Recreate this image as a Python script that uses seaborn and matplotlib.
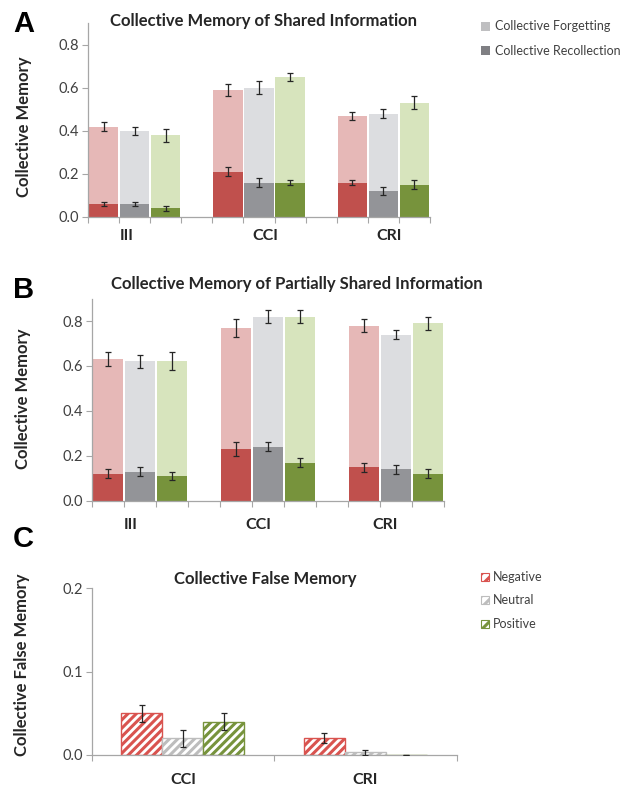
import numpy as np
import pandas as pd
import matplotlib
matplotlib.use("Agg")
import matplotlib.pyplot as plt
from matplotlib.patches import Patch
import seaborn as sns

# ---------------- data ----------------
groups = ["III", "CCI", "CRI"]
emotions = ["Negative", "Neutral", "Positive"]

# Panel A: shared information (rows = emotions, cols = groups)
A_total = [[0.42, 0.59, 0.47],
           [0.40, 0.60, 0.48],
           [0.38, 0.65, 0.53]]
A_total_err = [[0.02, 0.03, 0.02],
               [0.02, 0.03, 0.02],
               [0.03, 0.018, 0.03]]
A_recall = [[0.06, 0.21, 0.16],
            [0.06, 0.16, 0.12],
            [0.04, 0.16, 0.15]]
A_recall_err = [[0.01, 0.02, 0.01],
                [0.01, 0.02, 0.02],
                [0.01, 0.01, 0.02]]

# Panel B: partially shared information
B_total = [[0.63, 0.77, 0.78],
           [0.62, 0.82, 0.74],
           [0.62, 0.82, 0.79]]
B_total_err = [[0.03, 0.04, 0.03],
               [0.03, 0.03, 0.02],
               [0.04, 0.03, 0.03]]
B_recall = [[0.12, 0.23, 0.15],
            [0.13, 0.24, 0.14],
            [0.11, 0.17, 0.12]]
B_recall_err = [[0.02, 0.03, 0.02],
                [0.02, 0.02, 0.02],
                [0.02, 0.02, 0.02]]

# Panel C: collective false memory
groups_c = ["CCI", "CRI"]
C_false = [[0.050, 0.020],
           [0.020, 0.003],
           [0.040, 0.000]]
C_false_err = [[0.010, 0.006],
               [0.010, 0.003],
               [0.010, 0.000]]

yticks_ab = [0.0, 0.2, 0.4, 0.6, 0.8]
yticks_c = [0.0, 0.1, 0.2]

# ---------------- style ----------------
sns.set_style("white")
plt.rcParams["font.family"] = ["Lato", "DejaVu Sans"]
plt.rcParams["hatch.linewidth"] = 2.2

light_pal = ["#e6b8b7", "#dcdde0", "#d7e4bd"]
dark_pal = ["#c0504d", "#939498", "#77933c"]
hatch_pal = ["#d9534f", "#bdbdbd", "#77933c"]
TXT = "#262626"
TICKTXT = "#404040"
SPINE = "#a6a6a6"

W, H = 633, 788
fig = plt.figure(figsize=(W / 100, H / 100), dpi=100)


def fx(px):
    return px / W


def fy(py):
    return 1 - py / H


def style_axes(ax):
    for s in ["top", "right"]:
        ax.spines[s].set_visible(False)
    for s in ["left", "bottom"]:
        ax.spines[s].set_color(SPINE)
        ax.spines[s].set_linewidth(0.9)
    ax.set_xlabel("")
    ax.set_ylabel("")
    ax.tick_params(axis="y", which="major", direction="out", length=4, width=0.8,
                   color=SPINE, labelcolor=TICKTXT, labelsize=10.5, pad=2.5, left=True)


def add_errorbars(ax, containers, errs):
    for cont, err in zip(containers, errs):
        xs = [b.get_x() + b.get_width() / 2 for b in cont]
        ys = [b.get_height() for b in cont]
        ax.errorbar(xs, ys, yerr=err, fmt="none", ecolor=TXT, elinewidth=0.9,
                    capsize=2.3, capthick=0.9, zorder=5)


def stacked_panel(ax, total, total_err, recall, recall_err, label_off, pad):
    df = pd.DataFrame({
        "group": np.tile(groups, len(emotions)),
        "emotion": np.repeat(emotions, len(groups)),
        "total": np.ravel(total),
        "recall": np.ravel(recall),
    })
    sns.barplot(data=df, x="group", y="total", hue="emotion", order=groups,
                hue_order=emotions, palette=light_pal, width=0.75, gap=0.05,
                errorbar=None, saturation=1, legend=False, ax=ax, linewidth=0)
    n0 = len(ax.containers)
    sns.barplot(data=df, x="group", y="recall", hue="emotion", order=groups,
                hue_order=emotions, palette=dark_pal, width=0.75, gap=0.05,
                errorbar=None, saturation=1, legend=False, ax=ax, linewidth=0)
    light_c = ax.containers[:n0]
    dark_c = ax.containers[n0:]
    add_errorbars(ax, light_c, total_err)
    add_errorbars(ax, dark_c, recall_err)
    style_axes(ax)
    ax.set_xlim(-0.375, len(groups) - 1 + 0.375)
    ax.set_ylim(0, 0.9)
    ax.set_yticks(yticks_ab)
    ax.set_yticklabels([f"{v:.1f}" for v in yticks_ab])
    pos = np.arange(len(groups)) + np.array(label_off)
    ax.set_xticks(pos)
    ax.set_xticklabels(groups, fontweight="bold", fontsize=11.5, color=TXT)
    ax.set_xticks(np.arange(-0.375, len(groups) - 1 + 0.376, 0.25), minor=True)
    ax.tick_params(axis="x", which="major", length=0, pad=pad)
    ax.tick_params(axis="x", which="minor", direction="out", length=4, width=0.8,
                   color=SPINE, bottom=True)


# ---------------- Panel A ----------------
axA = fig.add_axes([fx(88), fy(217), fx(342), (217 - 23.3) / H])
stacked_panel(axA, A_total, A_total_err, A_recall, A_recall_err,
              [-0.06, 0.048, 0.044], 8.5)

# ---------------- Panel B ----------------
axB = fig.add_axes([fx(91.7), fy(500.7), fx(352.6), (500.7 - 298.6) / H])
stacked_panel(axB, B_total, B_total_err, B_recall, B_recall_err,
              [-0.07, -0.078, -0.086], 12.5)

# ---------------- Panel C ----------------
axC = fig.add_axes([fx(91.7), fy(755), fx(365), (755 - 588.3) / H])
dfc = pd.DataFrame({
    "group": np.tile(groups_c, len(emotions)),
    "emotion": np.repeat(emotions, len(groups_c)),
    "value": np.ravel(C_false),
})
sns.barplot(data=dfc, x="group", y="value", hue="emotion", order=groups_c,
            hue_order=emotions, palette=hatch_pal, width=0.674, gap=0,
            errorbar=None, saturation=1, legend=False, ax=axC, hatch="////",
            linewidth=1.0)
for cont, col in zip(axC.containers, hatch_pal):
    for b in cont:
        b.set_facecolor("white")
        b.set_edgecolor(col)
add_errorbars(axC, axC.containers, C_false_err)
style_axes(axC)
axC.set_xlim(-0.5, 1.5)
axC.set_ylim(0, 0.2)
axC.set_yticks(yticks_c)
axC.set_yticklabels([f"{v:.1f}" for v in yticks_c])
axC.set_xticks(np.arange(len(groups_c)))
axC.set_xticklabels(groups_c, fontweight="bold", fontsize=11.5, color=TXT)
axC.set_xticks([-0.5, 0.5, 1.5], minor=True)
axC.tick_params(axis="x", which="major", length=0, pad=13)
axC.tick_params(axis="x", which="minor", direction="out", length=4, width=0.8,
                color=SPINE, bottom=True)

# ---------------- titles / labels ----------------
fig.text(fx(263), fy(21), "Collective Memory of Shared Information",
         ha="center", va="center", fontsize=12, fontweight="bold", color=TXT)
fig.text(fx(296.5), fy(284), "Collective Memory of Partially Shared Information",
         ha="center", va="center", fontsize=12, fontweight="bold", color=TXT)
fig.text(fx(265), fy(579), "Collective False Memory",
         ha="center", va="center", fontsize=12, fontweight="bold", color=TXT)

fig.text(fx(24), fy(127), "Collective Memory", rotation=90, ha="center",
         va="center", fontsize=12, fontweight="bold", color=TXT)
fig.text(fx(23), fy(399), "Collective Memory", rotation=90, ha="center",
         va="center", fontsize=12, fontweight="bold", color=TXT)
fig.text(fx(22), fy(665), "Collective False Memory", rotation=90, ha="center",
         va="center", fontsize=12, fontweight="bold", color=TXT)

for letter, ybase in [("A", 32), ("B", 298), ("C", 547)]:
    fig.text(fx(13), fy(ybase), letter, fontsize=21, fontweight="bold",
             family=["Liberation Sans", "DejaVu Sans"], color="black",
             va="baseline", ha="left")

# ---------------- legends ----------------
legA = [Patch(facecolor="#bfbfc1", edgecolor="none", label="Collective Forgetting"),
        Patch(facecolor="#7f7f83", edgecolor="none", label="Collective Recollection")]
fig.legend(handles=legA, loc="upper left", bbox_to_anchor=(fx(481), fy(20.5)),
           frameon=False, fontsize=9, handlelength=0.75, handleheight=0.75,
           handletextpad=0.35, labelspacing=1.0, borderpad=0, borderaxespad=0,
           labelcolor=TICKTXT)

legC = [Patch(facecolor="white", edgecolor=c, hatch="///", label=e, linewidth=0.8)
        for c, e in zip(hatch_pal, emotions)]
fig.legend(handles=legC, loc="upper left", bbox_to_anchor=(fx(481), fy(571)),
           frameon=False, fontsize=9, handlelength=0.6, handleheight=0.6,
           handletextpad=0.35, labelspacing=0.92, borderpad=0, borderaxespad=0,
           labelcolor=TICKTXT)

fig.savefig("out.png", dpi=100)
